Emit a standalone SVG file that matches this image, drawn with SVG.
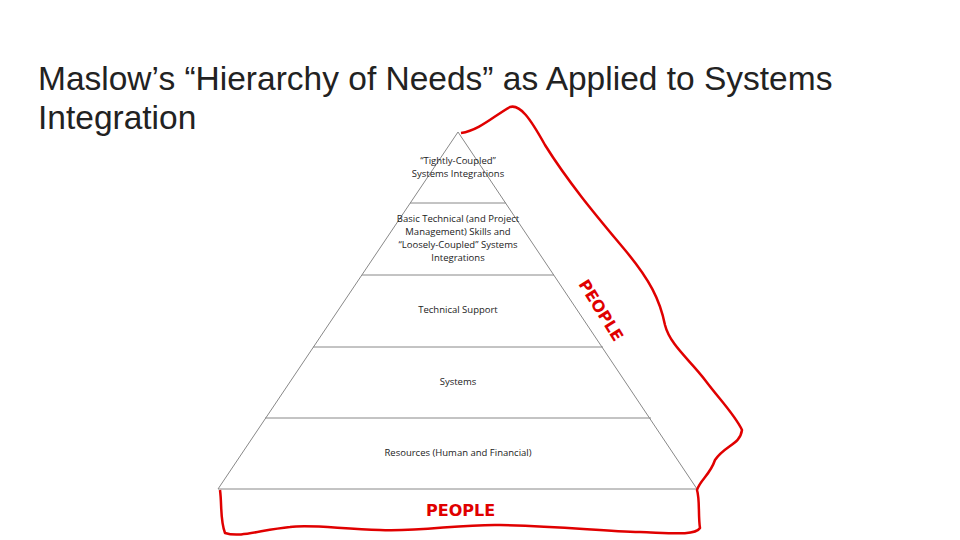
<svg xmlns="http://www.w3.org/2000/svg" width="960" height="540" viewBox="0 0 960 540">
<style>
.t{font-family:"Liberation Sans",Arial,sans-serif;font-size:33.5px;fill:#222}
.l{font-family:"Open Sans","DejaVu Sans",sans-serif;font-size:9.5px;fill:#222;text-anchor:middle}
.ln{stroke:#888;stroke-width:1;fill:none}
.r{fill:#e00000;font-family:"DejaVu Sans",sans-serif;font-weight:bold;font-size:16px}
</style>
<rect width="960" height="540" fill="#fff"/>
<text class="t" x="38" y="90">Maslow’s “Hierarchy of Needs” as Applied to Systems</text>
<text class="t" x="38" y="129">Integration</text>
<g id="pyramid">
<polygon class="ln" points="458,132 697,489 218,489"/>
<line class="ln" x1="410" y1="203" x2="506" y2="203"/>
<line class="ln" x1="362" y1="275" x2="554" y2="275"/>
<line class="ln" x1="313" y1="347" x2="603" y2="347"/>
<line class="ln" x1="265" y1="418" x2="651" y2="418"/>
</g>
<g id="n1"><text class="l" x="458" y="164">“Tightly-Coupled”</text><text class="l" x="458" y="177">Systems Integrations</text></g>
<g id="n2"><text class="l" x="458" y="222">Basic Technical (and Project</text><text class="l" x="458" y="235">Management) Skills and</text><text class="l" x="458" y="248">“Loosely-Coupled” Systems</text><text class="l" x="458" y="261">Integrations</text></g>
<g id="n3"><text class="l" x="458" y="313">Technical Support</text></g>
<g id="n4"><text class="l" x="458" y="385">Systems</text></g>
<g id="n5"><text class="l" x="458" y="456">Resources (Human and Financial)</text></g>
<g id="people">
<path d="M461,133 C480,130 495,115 510,107 C520,104 530,118 545,145 C570,185 600,220 625,250 C650,280 660,300 665,325 C670,345 690,360 705,380 C720,400 735,415 742,430 C740,445 725,445 715,460 C710,475 700,480 697,490 C700,500 698,515 700,528 C695,536 670,533 640,532 C600,531 560,526 500,525 C460,524 420,532 380,530 C340,529 310,524 290,527 C260,530 240,538 225,533 C220,520 222,505 220,490" fill="none" stroke="#e00000" stroke-width="2.5" stroke-linejoin="round"/>
<text class="r" x="0" y="0" transform="translate(578,284) rotate(58)">PEOPLE</text>
<text class="r" x="426" y="516">PEOPLE</text>
</g>
</svg>
